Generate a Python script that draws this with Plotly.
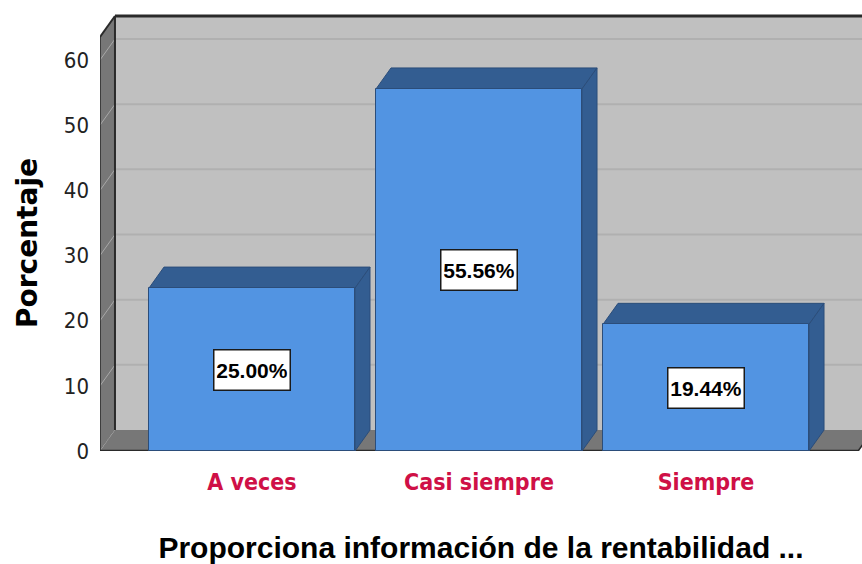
import plotly.graph_objects as go

# Data
categories = ["A veces", "Casi siempre", "Siempre"]
percentages = [25.00, 55.56, 19.44]
y_ticks = [0, 10, 20, 30, 40, 50, 60]
x_title = "Proporciona información de la rentabilidad ..."
y_title = "Porcentaje"

# Pseudo-3D geometry in data units
x_pos = list(range(len(categories)))
bar_w = 0.9075
dx = 0.066          # depth shift along x
dy = 3.22           # depth shift along y
x_lo, x_hi = -0.6696, 2.687
y_hi = 67.67
floor_right = 2.67
wall_top = 63.53

FRONT = "#5294e2"
SIDE = "#335d91"
EDGE = "#2b4d7a"
WALL = "#c0c0c0"
DARK_WALL = "#777777"
GRID = "#b0b0b0"
LINE = "#2a2a2a"

ARIAL = "Liberation Sans, Arial, sans-serif"
COND = "DejaVu Sans Condensed, Liberation Sans Narrow, sans-serif"

shapes = []


def poly(pts, fill, line_color=None, line_w=0, layer="below"):
    path = "M " + " L ".join(f"{x},{y}" for x, y in pts) + " Z"
    shapes.append(dict(type="path", path=path, xref="x", yref="y",
                       fillcolor=fill, layer=layer,
                       line=dict(color=line_color or fill, width=line_w)))


def seg(x0, y0, x1, y1, color, width, layer="below", dash=None):
    ln = dict(color=color, width=width)
    if dash:
        ln["dash"] = dash
    shapes.append(dict(type="line", x0=x0, y0=y0, x1=x1, y1=y1, xref="x", yref="y",
                       line=ln, layer=layer))


# back wall
bx0 = x_lo + dx
poly([(bx0, dy), (3.2, dy), (3.2, wall_top + dy), (bx0, wall_top + dy)], WALL)
# gridlines on back wall
for v in y_ticks[1:]:
    seg(bx0, v + dy, 3.2, v + dy, GRID, 2)
# left wall
poly([(x_lo, 0), (bx0, dy), (bx0, wall_top + dy), (x_lo, wall_top)], DARK_WALL)
for v in y_ticks[1:]:
    seg(x_lo, v, bx0, v + dy, "#a8a8a8", 1)
seg(x_lo, 0, bx0, dy, "#a8a8a8", 1, dash="dot")
# floor
poly([(x_lo, 0), (floor_right, 0), (floor_right + dx, dy), (bx0, dy)], DARK_WALL)
# frame lines
seg(bx0, dy, bx0, wall_top + dy, LINE, 2)
seg(bx0, wall_top + dy, 3.2, wall_top + dy, LINE, 3)
seg(x_lo, wall_top, bx0, wall_top + dy, LINE, 2)
seg(x_lo, 0, x_lo, wall_top, LINE, 1.5)
seg(x_lo, 0, floor_right, 0, LINE, 2.5)
seg(floor_right, 0, floor_right + dx, dy, LINE, 1.5)

# bar top and side faces
for xc, v in zip(x_pos, percentages):
    x0, x1 = xc - bar_w / 2, xc + bar_w / 2
    poly([(x0, v), (x1, v), (x1 + dx, v + dy), (x0 + dx, v + dy)], SIDE, EDGE, 1)
    poly([(x1, 0), (x1, v), (x1 + dx, v + dy), (x1 + dx, dy)], SIDE, EDGE, 1)

fig = go.Figure()
fig.add_trace(go.Bar(
    x=x_pos, y=percentages, width=bar_w,
    marker=dict(color=FRONT, line=dict(color=EDGE, width=1)),
    hoverinfo="skip", showlegend=False,
))

annotations = []
for xc, v in zip(x_pos, percentages):
    annotations.append(dict(
        x=xc, y=v / 2, xref="x", yref="y", showarrow=False,
        text=f"{v:.2f}%",
        font=dict(family=ARIAL, size=21, color="#000000", weight="bold"),
        width=71, height=35,
        bgcolor="#ffffff", bordercolor="#1a1a1a", borderwidth=1.5, borderpad=2,
    ))

# vertical axis title
annotations.append(dict(
    x=-0.0945, y=0.4717, xref="paper", yref="paper", showarrow=False,
    text=y_title, textangle=-90, xanchor="center", yanchor="middle",
    font=dict(family="DejaVu Sans, sans-serif", size=28, color="#000000", weight="bold"),
))

fig.update_layout(
    width=862, height=564,
    margin=dict(l=100, r=0, t=10, b=113),
    paper_bgcolor="#ffffff", plot_bgcolor="#ffffff",
    shapes=shapes, annotations=annotations,
    xaxis=dict(
        range=[x_lo, x_hi], tickvals=x_pos, ticktext=categories,
        tickfont=dict(family=COND, size=23, color="#cf1046", weight="bold"),
        showgrid=False, zeroline=False, showline=False, ticks="",
        ticklabelstandoff=15,
        title=dict(text=x_title, standoff=42,
                   font=dict(family=ARIAL, size=30, color="#000000", weight="bold")),
    ),
    yaxis=dict(
        range=[0, y_hi], tickvals=y_ticks,
        tickfont=dict(family=COND, size=22, color="#222222"),
        showgrid=False, zeroline=False, showline=False, ticks="",
        ticklabelstandoff=10,
    ),
    bargap=0,
)

fig.write_html("out.html")
